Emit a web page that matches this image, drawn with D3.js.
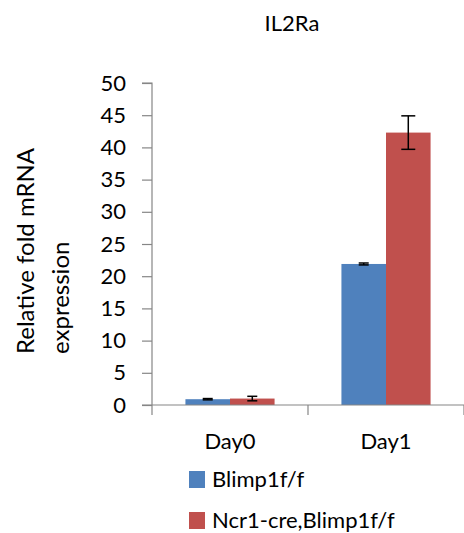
<!DOCTYPE html>
<html><head><meta charset="utf-8">
<script src="https://cdn.jsdelivr.net/npm/d3@7"></script>
<style>body{margin:0;background:#fff;} text{font-family:Lato,"Open Sans",sans-serif;fill:#000;}</style>
</head><body>
<svg id="c" width="464" height="533"></svg>
<script>
const categories = ["Day0", "Day1"];
const seriesNames = ["Blimp1f/f", "Ncr1-cre,Blimp1f/f"];
const blimpValues = [0.9, 21.9];
const blimpErrors = [0.1, 0.15];
const ncrValues = [1.0, 42.3];
const ncrErrors = [0.35, 2.6];
const yTicks = [0, 5, 10, 15, 20, 25, 30, 35, 40, 45, 50];
const colors = ["#4F81BD", "#C0504D"];

(function () {
const FS = 22;
const svg = d3.select("#c");
const mLeft = 152, mRight = 464, mTop = 83, mBottom = 405;
const x0 = d3.scaleBand().domain(categories).range([mLeft, mRight]).paddingInner(0).paddingOuter(0);
const x1 = d3.scaleBand().domain(seriesNames).range([0, x0.bandwidth()]).paddingInner(0).paddingOuter(0.75);
const y = d3.scaleLinear().domain([0, 50]).range([mBottom, mTop]);

const data = categories.map((c, i) => [
  {cat: c, s: seriesNames[0], v: blimpValues[i], e: blimpErrors[i], col: colors[0]},
  {cat: c, s: seriesNames[1], v: ncrValues[i], e: ncrErrors[i], col: colors[1]}
]).flat();

// y axis
const yAxis = d3.axisLeft(y).tickValues(yTicks).tickSize(10).tickPadding(16);
const gy = svg.append("g").attr("transform", `translate(${mLeft},0)`).call(yAxis);
gy.select(".domain").attr("stroke", "#868686").attr("stroke-width", 1.2).attr("d", `M-10,${mTop}H0V${mBottom}`);
gy.selectAll(".tick line").attr("stroke", "#868686").attr("stroke-width", 1.2);
gy.selectAll(".tick text").attr("font-size", FS).style("font-family", "Lato").attr("fill", "#000");

// bars
svg.append("g").selectAll("rect").data(data).join("rect")
  .attr("x", d => x0(d.cat) + x1(d.s))
  .attr("width", x1.bandwidth())
  .attr("y", d => y(d.v))
  .attr("height", d => y(0) - y(d.v))
  .attr("fill", d => d.col);

// x axis
const xAxisLine = svg.append("g");
xAxisLine.append("line").attr("x1", mLeft - 10).attr("x2", mRight).attr("y1", mBottom).attr("y2", mBottom)
  .attr("stroke", "#868686").attr("stroke-width", 1.2);
const catEdges = [mLeft].concat(categories.map(c => x0(c) + x0.bandwidth()));
xAxisLine.selectAll("line.t").data(catEdges).join("line").attr("class", "t")
  .attr("x1", d => d).attr("x2", d => d).attr("y1", mBottom).attr("y2", mBottom + 10)
  .attr("stroke", "#868686").attr("stroke-width", 1.2);
svg.append("g").selectAll("text").data(categories).join("text")
  .attr("x", d => x0(d) + x0.bandwidth() / 2).attr("y", 449)
  .attr("text-anchor", "middle").attr("font-size", FS).text(d => d);

// error bars
const eg = svg.append("g").attr("stroke", "#000").attr("stroke-width", 1.5);
data.forEach(d => {
  const cx = x0(d.cat) + x1(d.s) + x1.bandwidth() / 2;
  const cap = d.e > 1 ? 7 : 5;
  eg.append("line").attr("x1", cx).attr("x2", cx).attr("y1", y(d.v + d.e)).attr("y2", y(d.v - d.e));
  eg.append("line").attr("x1", cx - cap).attr("x2", cx + cap).attr("y1", y(d.v + d.e)).attr("y2", y(d.v + d.e));
  eg.append("line").attr("x1", cx - cap).attr("x2", cx + cap).attr("y1", y(d.v - d.e)).attr("y2", y(d.v - d.e));
});

// title
svg.append("text").attr("x", 292).attr("y", 31).attr("text-anchor", "middle").attr("font-size", FS).text("IL2Ra");

// y label
const yl = svg.append("text").attr("transform", "translate(0,354) rotate(-90)").attr("font-size", 24);
yl.append("tspan").attr("x", 0).attr("y", 34).text("Relative fold mRNA");
yl.append("tspan").attr("x", 0).attr("y", 69).text("expression");

// legend
const lg = svg.append("g").selectAll("g").data(seriesNames).join("g")
  .attr("transform", (d, i) => `translate(189,${471 + i * 41})`);
lg.append("rect").attr("width", 16).attr("height", 17).attr("fill", (d, i) => colors[i]);
lg.append("text").attr("x", 23).attr("y", 16).attr("font-size", FS).text(d => d);
})();
</script>
</body></html>
